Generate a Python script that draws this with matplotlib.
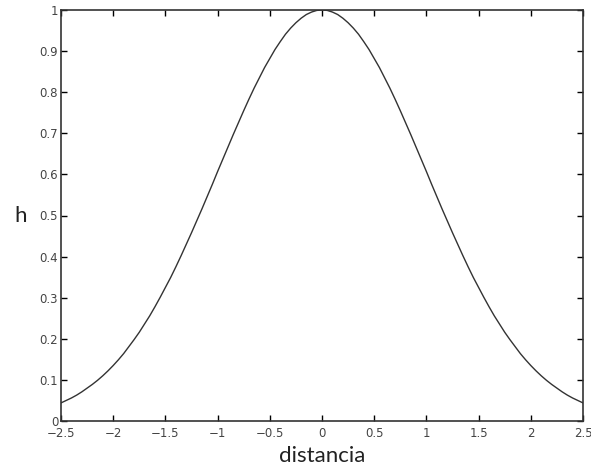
import matplotlib
matplotlib.use("Agg")
import matplotlib.pyplot as plt

# values (every 0.05)
distancia = [-2.5, -2.45, -2.4, -2.35, -2.3, -2.25, -2.2, -2.15, -2.1, -2.05,
             -2.0, -1.95, -1.9, -1.85, -1.8, -1.75, -1.7, -1.65, -1.6, -1.55,
             -1.5, -1.45, -1.4, -1.35, -1.3, -1.25, -1.2, -1.15, -1.1, -1.05,
             -1.0, -0.95, -0.9, -0.85, -0.8, -0.75, -0.7, -0.65, -0.6, -0.55,
             -0.5, -0.45, -0.4, -0.35, -0.3, -0.25, -0.2, -0.15, -0.1, -0.05,
             0.0,
             0.05, 0.1, 0.15, 0.2, 0.25, 0.3, 0.35, 0.4, 0.45, 0.5,
             0.55, 0.6, 0.65, 0.7, 0.75, 0.8, 0.85, 0.9, 0.95, 1.0,
             1.05, 1.1, 1.15, 1.2, 1.25, 1.3, 1.35, 1.4, 1.45, 1.5,
             1.55, 1.6, 1.65, 1.7, 1.75, 1.8, 1.85, 1.9, 1.95, 2.0,
             2.05, 2.1, 2.15, 2.2, 2.25, 2.3, 2.35, 2.4, 2.45, 2.5]
h = [0.044, 0.050, 0.056, 0.063, 0.071, 0.080, 0.089, 0.099, 0.110, 0.122,
     0.135, 0.149, 0.164, 0.181, 0.198, 0.216, 0.236, 0.256, 0.278, 0.301,
     0.325, 0.349, 0.375, 0.402, 0.430, 0.458, 0.487, 0.516, 0.546, 0.576,
     0.607, 0.637, 0.667, 0.697, 0.726, 0.755, 0.783, 0.810, 0.835, 0.860,
     0.882, 0.904, 0.923, 0.941, 0.956, 0.969, 0.980, 0.989, 0.995, 0.999,
     1.000,
     0.999, 0.995, 0.989, 0.980, 0.969, 0.956, 0.941, 0.923, 0.904, 0.882,
     0.860, 0.835, 0.810, 0.783, 0.755, 0.726, 0.697, 0.667, 0.637, 0.607,
     0.576, 0.546, 0.516, 0.487, 0.458, 0.430, 0.402, 0.375, 0.349, 0.325,
     0.301, 0.278, 0.256, 0.236, 0.216, 0.198, 0.181, 0.164, 0.149, 0.135,
     0.122, 0.110, 0.099, 0.089, 0.080, 0.071, 0.063, 0.056, 0.050, 0.044]

xticks = [-2.5, -2, -1.5, -1, -0.5, 0, 0.5, 1, 1.5, 2, 2.5]
xticklabels = ["\u22122.5", "\u22122", "\u22121.5", "\u22121", "\u22120.5", "0",
               "0.5", "1", "1.5", "2", "2.5"]
yticks = [0, 0.1, 0.2, 0.3, 0.4, 0.5, 0.6, 0.7, 0.8, 0.9, 1]
yticklabels = ["0", "0.1", "0.2", "0.3", "0.4", "0.5", "0.6", "0.7", "0.8", "0.9", "1"]

plt.rcParams['font.family'] = ['DejaVu Sans']

fig = plt.figure(figsize=(5.91, 4.67), dpi=100)
ax = fig.add_axes([61 / 591, 46 / 467, 522 / 591, 411 / 467])
ax.plot(distancia, h, color='#333333', linewidth=1.0)

ax.set_xlim(-2.5, 2.5)
ax.set_ylim(0, 1)
ax.set_xticks(xticks)
ax.set_xticklabels(xticklabels)
ax.set_yticks(yticks)
ax.set_yticklabels(yticklabels)
ax.tick_params(direction='in', top=True, right=True, length=4, width=1,
               labelsize=8.5, labelcolor='#444444', pad=2)
ax.tick_params(axis='x', pad=4)
for s in ax.spines.values():
    s.set_linewidth(1.2)
    s.set_color('#333333')

ax.set_xlabel("distancia", fontsize=16, family=['Lato', 'DejaVu Sans'],
              color='#222222', labelpad=5)
ax.set_ylabel("h", fontsize=16, family=['Lato', 'DejaVu Sans'],
              color='#222222', rotation=0, labelpad=14, va='center')

fig.savefig("out.png", dpi=100)
